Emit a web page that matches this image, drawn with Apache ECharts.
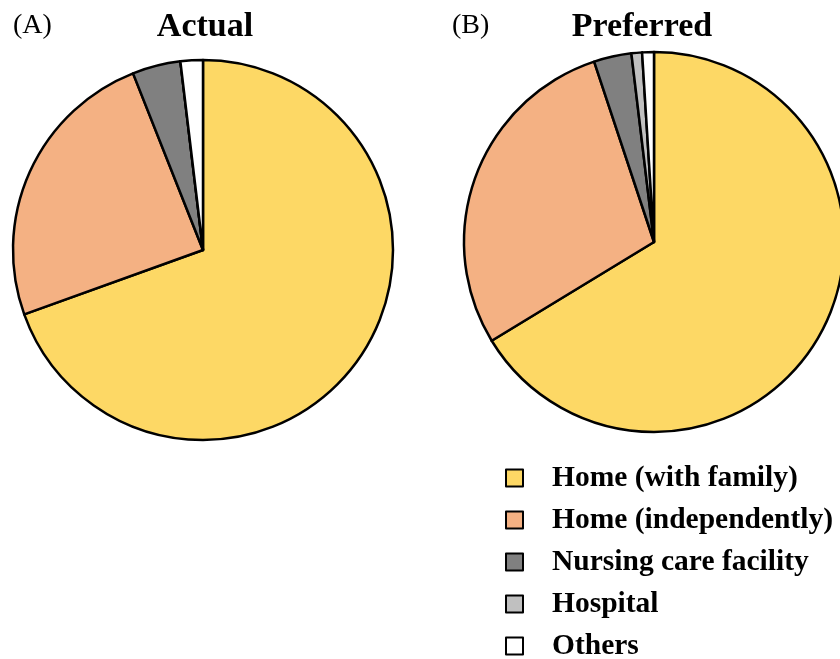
<!DOCTYPE html>
<html>
<head>
<meta charset="utf-8">
<script src="https://cdn.jsdelivr.net/npm/echarts@6/dist/echarts.min.js"></script>
<style>html,body{margin:0;padding:0;background:#fff}#c{width:840px;height:659px}</style>
</head>
<body>
<div id="c"></div>
<script>
const categories = ['Home (with family)', 'Home (independently)', 'Nursing care facility', 'Hospital', 'Others'];
const actualValues = [69.5, 24.5, 4.1, 0, 1.9];
const preferredValues = [66.3, 28.6, 3.2, 0.9, 1.0];
const colors = ['#FDD865', '#F4B183', '#808080', '#C0C0C0', '#FFFFFF'];
const panelLabels = ['(A)', '(B)'];
const panelTitles = ['Actual', 'Preferred'];

const FONT = '"Liberation Serif", "Times New Roman", serif';
const chart = echarts.init(document.getElementById('c'));

function mkData(vals) {
  return categories.map((n, i) => ({ name: n, value: vals[i], itemStyle: { color: colors[i] } }));
}

chart.setOption({
  animation: false,
  title: [
    { text: panelLabels[0], left: 13, top: 12, padding: 0, textStyle: { fontFamily: FONT, fontWeight: 'normal', fontSize: 28, color: '#000' } },
    { text: panelTitles[0], left: 205, textAlign: 'center', top: 10, padding: 0, textStyle: { fontFamily: FONT, fontWeight: 'bold', fontSize: 34, color: '#000' } },
    { text: panelLabels[1], left: 452, top: 12, padding: 0, textStyle: { fontFamily: FONT, fontWeight: 'normal', fontSize: 28, color: '#000' } },
    { text: panelTitles[1], left: 642, textAlign: 'center', top: 10, padding: 0, textStyle: { fontFamily: FONT, fontWeight: 'bold', fontSize: 34, color: '#000' } }
  ],
  legend: {
    orient: 'vertical',
    left: 505,
    top: 463,
    height: 400,
    padding: 0,
    itemWidth: 17,
    itemHeight: 17,
    itemGap: 12,
    icon: 'rect',
    selectedMode: false,
    data: categories,
    itemStyle: { borderColor: '#000', borderWidth: 2 },
    textStyle: { fontFamily: FONT, fontWeight: 'bold', fontSize: 29.5, color: '#000', padding: [0, 0, 0, 24] }
  },
  series: [
    {
      type: 'pie', name: panelTitles[0], center: [203, 250], radius: 190, startAngle: 90, clockwise: true,
      label: { show: false }, labelLine: { show: false }, emphasis: { disabled: true },
      itemStyle: { borderColor: '#000', borderWidth: 2.5 },
      data: mkData(actualValues)
    },
    {
      type: 'pie', name: panelTitles[1], center: [654, 242], radius: 190, startAngle: 90, clockwise: true,
      label: { show: false }, labelLine: { show: false }, emphasis: { disabled: true },
      itemStyle: { borderColor: '#000', borderWidth: 2.5 },
      data: mkData(preferredValues)
    }
  ]
});
</script>
</body>
</html>
